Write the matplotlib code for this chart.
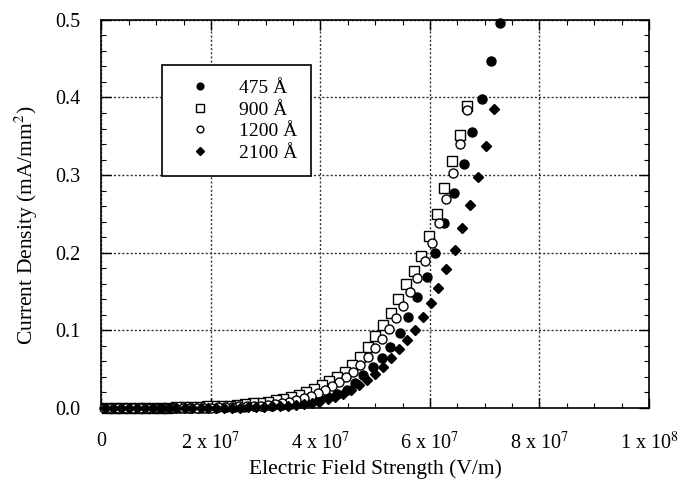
import numpy as np
import matplotlib
matplotlib.use('Agg')
import matplotlib.pyplot as plt
from matplotlib.ticker import MultipleLocator, FuncFormatter

# field strength in units of 1e6 V/m, current density in mA/mm^2
e_475 = [72.8, 71.1, 69.5, 67.7, 66.2, 64.4, 62.5, 60.9, 59.5, 57.6, 56.0, 54.5,
         52.7, 51.2, 49.6, 47.8, 46.3, 44.8, 43.1, 41.4, 39.7, 38.0, 36.3, 34.6,
         32.9, 31.2, 29.5, 27.8, 26.1, 24.4, 22.7, 21.0, 19.3, 17.6, 15.9, 14.2,
         12.5, 10.8, 9.1, 7.4, 5.7, 4.0, 2.3, 0.6]
j_475 = [0.496, 0.447, 0.398, 0.356, 0.314, 0.277, 0.238, 0.200, 0.169, 0.143, 0.117, 0.097,
         0.079, 0.064, 0.053, 0.043, 0.032, 0.023, 0.018, 0.014, 0.011, 0.008, 0.006, 0.005,
         0.004, 0.003, 0.002, 0.002, 0.001, 0.001, 0.001, 0.0, 0.0, 0.0, 0.0, 0.0,
         0.0, 0.0, 0.0, 0.0, 0.0, 0.0, 0.0, 0.0]

e_900 = [66.8, 65.4, 64.0, 62.6, 61.2, 59.8, 58.4, 57.0, 55.6, 54.2, 52.8, 51.4,
         50.0, 48.6, 47.2, 45.8, 44.4, 43.0, 41.6, 40.2, 38.8, 37.4, 36.0, 34.6,
         33.2, 31.8, 30.4, 29.0, 27.6, 26.2, 24.8, 23.4, 22.0, 20.6, 19.2, 17.8,
         16.4, 15.0, 13.6, 12.2, 10.8, 9.4, 8.0, 6.6, 5.2, 3.8, 2.4, 1.0]
j_900 = [0.389, 0.352, 0.318, 0.283, 0.250, 0.222, 0.196, 0.176, 0.160, 0.140, 0.122, 0.107,
         0.093, 0.079, 0.066, 0.055, 0.046, 0.040, 0.035, 0.030, 0.025, 0.021, 0.017, 0.014,
         0.012, 0.010, 0.008, 0.007, 0.006, 0.005, 0.004, 0.003, 0.003, 0.002, 0.002, 0.001,
         0.001, 0.001, 0.001, 0.0, 0.0, 0.0, 0.0, 0.0, 0.0, 0.0, 0.0, 0.0]

e_1200 = [66.8, 65.5, 64.2, 62.9, 61.6, 60.3, 59.0, 57.7, 56.4, 55.1, 53.8, 52.5,
          51.2, 49.9, 48.6, 47.3, 46.0, 44.7, 43.4, 42.1, 40.8, 39.5, 38.2, 36.9,
          35.6, 34.3, 33.0, 31.7, 30.4, 29.1, 27.8, 26.5, 25.2, 23.9, 22.6, 21.3,
          20.0, 18.7, 17.4, 16.1, 14.8, 13.5, 12.2, 10.9, 9.6, 8.3, 7.0, 5.7,
          4.4, 3.1, 1.8, 0.5]
j_1200 = [0.384, 0.340, 0.303, 0.269, 0.238, 0.213, 0.190, 0.168, 0.150, 0.132, 0.116, 0.102,
          0.089, 0.077, 0.066, 0.056, 0.047, 0.040, 0.034, 0.028, 0.023, 0.019, 0.016, 0.013,
          0.010, 0.008, 0.007, 0.005, 0.004, 0.003, 0.003, 0.002, 0.002, 0.001, 0.001, 0.001,
          0.0, 0.0, 0.0, 0.0, 0.0, 0.0, 0.0, 0.0, 0.0, 0.0, 0.0, 0.0,
          0.0, 0.0, 0.0, 0.0]

e_2100 = [71.7, 70.3, 68.8, 67.3, 65.9, 64.5, 63.0, 61.5, 60.1, 58.7, 57.2, 55.8,
          54.3, 52.9, 51.4, 50.0, 48.5, 47.1, 45.6, 44.2, 42.7, 41.3, 39.8, 38.4,
          36.9, 35.5, 34.0, 32.6, 31.1, 29.7, 28.2, 26.8, 25.3, 23.9, 22.4, 21.0,
          19.5, 18.1, 16.6, 15.2, 13.7, 12.3, 10.8, 9.4, 7.9, 6.5, 5.0, 3.6,
          2.1, 0.7]
j_2100 = [0.385, 0.338, 0.298, 0.262, 0.232, 0.203, 0.179, 0.155, 0.135, 0.117, 0.100, 0.088,
          0.076, 0.064, 0.053, 0.044, 0.036, 0.029, 0.023, 0.018, 0.014, 0.011, 0.008, 0.006,
          0.005, 0.004, 0.003, 0.002, 0.002, 0.001, 0.001, 0.001, 0.0, 0.0, 0.0, 0.0,
          0.0, 0.0, 0.0, 0.0, 0.0, 0.0, 0.0, 0.0, 0.0, 0.0, 0.0, 0.0,
          0.0, 0.0]

labels = ['475 Å', '900 Å', '1200 Å', '2100 Å']
x_ticks = [0, 2e7, 4e7, 6e7, 8e7, 1e8]
x_tick_labels = ['0', r'2 x 10$^7$', r'4 x 10$^7$', r'6 x 10$^7$', r'8 x 10$^7$', r'1 x 10$^8$']

plt.rcParams['font.family'] = ['Liberation Serif', 'DejaVu Serif']
plt.rcParams['mathtext.fontset'] = 'stix'

fig = plt.figure(figsize=(6.81, 4.84), dpi=100)
ax = fig.add_axes([0.149, 0.157, 0.804, 0.802])

scale = 1e6
ax.plot(np.array(e_475) * scale, j_475, 'o', color='black', ms=6.5, label=labels[0],
        zorder=3, clip_on=False)
ax.plot(np.array(e_900) * scale, j_900, 's', mfc='white', mec='black', mew=1.0, ms=7,
        label=labels[1], zorder=3, clip_on=False)
ax.plot(np.array(e_1200) * scale, j_1200, 'o', mfc='white', mec='black', mew=1.0, ms=6.5,
        label=labels[2], zorder=3, clip_on=False)
ax.plot(np.array(e_2100) * scale, j_2100, 'D', color='black', ms=5.5, label=labels[3],
        zorder=3, clip_on=False)

ax.set_xlim(0, 1e8)
ax.set_ylim(0, 0.5)
ax.set_xticks(x_ticks)
ax.set_xticklabels(x_tick_labels)
ax.xaxis.set_minor_locator(MultipleLocator(5e6))
ax.yaxis.set_major_locator(MultipleLocator(0.1))
ax.yaxis.set_minor_locator(MultipleLocator(0.02))
ax.yaxis.set_major_formatter(FuncFormatter(lambda v, p: '%.1f' % v))

ax.tick_params(which='both', direction='in', top=True, right=True, labelsize=14.5, colors='black')
ax.tick_params(axis='x', which='major', pad=17)
ax.tick_params(axis='y', which='major', pad=15)
ax.tick_params(which='major', length=7, width=1)
ax.tick_params(which='minor', length=3.5, width=0.8)
for s in ax.spines.values():
    s.set_linewidth(1.2)

ax.grid(True, which='major', linestyle=(0, (1.5, 1.5)), color='#333333', linewidth=1.0)
ax.set_axisbelow(True)

ax.set_xlabel('Electric Field Strength (V/m)', fontsize=15.5, labelpad=4)
ax.set_ylabel(r'Current Density (mA/mm$^2$)', fontsize=15.5)
ax.yaxis.set_label_coords(-0.112, 0.47)

leg = ax.legend(loc='upper left', bbox_to_anchor=(0.11, 0.884), fontsize=14,
                frameon=True, fancybox=False, edgecolor='black', framealpha=1,
                markerscale=0.75, handlelength=2.4, handletextpad=0.8,
                borderpad=0.75, labelspacing=0.2, borderaxespad=0)
leg.get_frame().set_linewidth(1.2)

fig.savefig('out.png', dpi=100)
